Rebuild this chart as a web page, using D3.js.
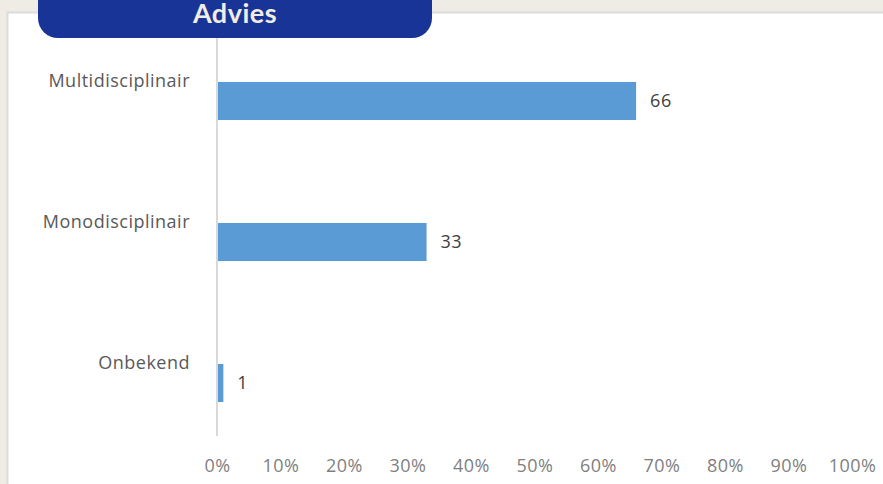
<!DOCTYPE html>
<html>
<head>
<meta charset="utf-8">
<script src="https://cdn.jsdelivr.net/npm/d3@7"></script>
<style>
  html, body { margin: 0; padding: 0; background: #efebe5; }
  svg { display: block; }
</style>
</head>
<body>
<svg id="chart" width="883" height="484"></svg>
<script>
// Share of advice types (percent of all cases)
const categories = ["Multidisciplinair", "Monodisciplinair", "Onbekend"];
const values = [66, 33, 1];
const tickValues = [0, 10, 20, 30, 40, 50, 60, 70, 80, 90, 100];
const title = "Advies";

const W = 883, H = 484;
const FONT = "'Open Sans', sans-serif";
const svg = d3.select("#chart");

// page background and white card
svg.append("rect").attr("width", W).attr("height", H).attr("fill", "#efebe5");
svg.append("rect")
  .attr("x", 7.5).attr("y", 12.5).attr("width", W).attr("height", H)
  .attr("fill", "#ffffff").attr("stroke", "#dcdcdc").attr("stroke-width", 2);

const x = d3.scaleLinear().domain([0, 100]).range([217, 852]);
const y = d3.scaleBand().domain(categories).range([30.5, 453.5]).paddingInner(0.73).paddingOuter(0.365);

// category axis line
svg.append("line")
  .attr("x1", x(0)).attr("x2", x(0))
  .attr("y1", 30).attr("y2", 436)
  .attr("stroke", "#d9d9d9").attr("stroke-width", 2);

// bars
svg.append("g").selectAll("rect")
  .data(categories)
  .join("rect")
  .attr("x", x(0) + 1)
  .attr("y", d => y(d))
  .attr("width", (d, i) => x(values[i]) - x(0) - 1)
  .attr("height", y.bandwidth())
  .attr("fill", "#5b9bd5");

// value labels
svg.append("g").selectAll("text")
  .data(categories)
  .join("text")
  .attr("x", (d, i) => x(values[i]) + 14)
  .attr("y", d => y(d) + y.bandwidth() / 2)
  .attr("dy", "0.35em")
  .attr("font-family", FONT)
  .attr("font-size", 18)
  .attr("letter-spacing", 0.5)
  .attr("fill", "#404040")
  .text((d, i) => values[i]);

// category labels, sitting above each bar
svg.append("g").selectAll("text")
  .data(categories)
  .join("text")
  .attr("x", 190)
  .attr("y", d => y(d) + y.bandwidth() / 2 - 20)
  .attr("dy", "0.35em")
  .attr("text-anchor", "end")
  .attr("font-family", FONT)
  .attr("font-size", 18)
  .attr("letter-spacing", 0.5)
  .attr("fill", "#595959")
  .text(d => d);

// percentage axis
const xAxis = d3.axisBottom(x)
  .tickValues(tickValues)
  .tickFormat(d => d + "%")
  .tickSize(0)
  .tickPadding(0);
const gx = svg.append("g").attr("transform", "translate(0,466)").call(xAxis);
gx.select(".domain").remove();
gx.selectAll("text")
  .attr("dy", "0.35em")
  .attr("font-family", FONT)
  .attr("font-size", 18)
  .attr("letter-spacing", 0.5)
  .attr("fill", "#7f7f7f");

// title pill
svg.append("rect")
  .attr("x", 38).attr("y", -30).attr("width", 394).attr("height", 68)
  .attr("rx", 20).attr("ry", 20)
  .attr("fill", "#183497");
svg.append("text")
  .attr("x", 235).attr("y", 23)
  .attr("text-anchor", "middle")
  .attr("font-family", "Lato, sans-serif")
  .attr("font-weight", "bold")
  .attr("font-size", 27)
  .attr("letter-spacing", 0.5)
  .attr("fill", "#f2ede3")
  .text(title);
</script>
</body>
</html>
